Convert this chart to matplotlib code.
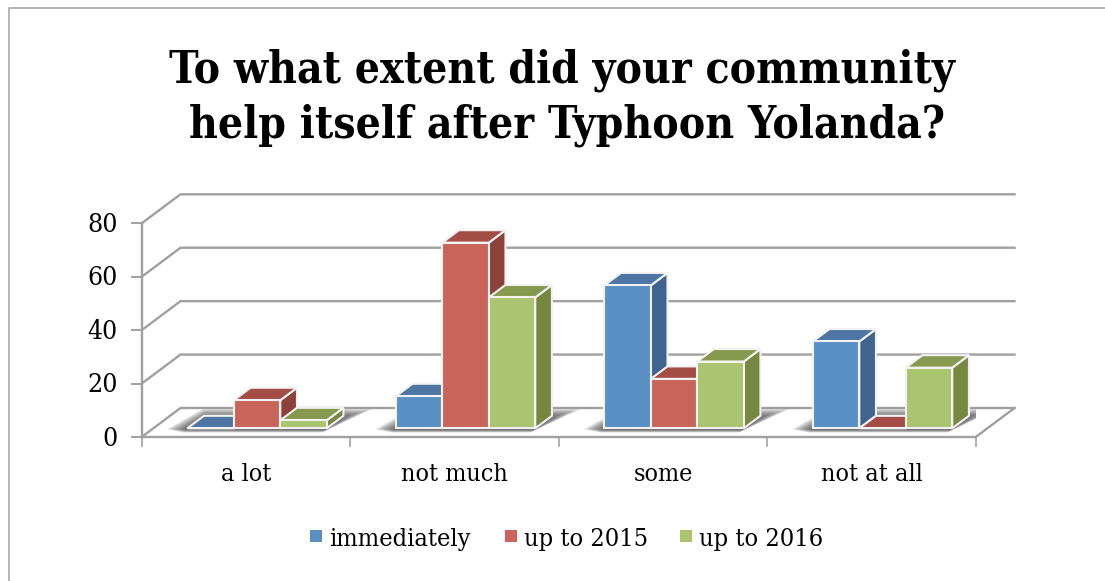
import matplotlib
matplotlib.use('Agg')
from matplotlib import pyplot as plt
from matplotlib.patches import Polygon, Rectangle

categories = ['a lot', 'not much', 'some', 'not at all']
series_names = ['immediately', 'up to 2015', 'up to 2016']
immediately = [0, 12, 53.5, 32.5]
up_to_2015 = [10.5, 69.5, 18.5, 0]
up_to_2016 = [3, 49, 25, 22.7]
y_ticks = [0, 20, 40, 60, 80]

colors = ['#5B90C4', '#C9645B', '#ABC46F']
top_colors = ['#4E75A3', '#A34D46', '#87994F']
side_colors = ['#41648E', '#8C423B', '#76873F']
grid_color = '#A0A0A0'
W, H = 1105, 581

plt.rcParams['font.family'] = ['DejaVu Serif']
plt.rcParams['font.stretch'] = 'condensed'

fig = plt.figure(figsize=(W / 100, H / 100), dpi=100)
# the front plane of the 3d box is the axes itself, depth is drawn by shearing
left, right, bottom, top = 141.7, 975.7, 437, 223.3
ax = fig.add_axes([left / W, 1 - bottom / H, (right - left) / W, (bottom - top) / H])
ax.set_xlim(0, 4)
ax.set_ylim(0, 80)
ax.axis('off')

x_px = 4 / (right - left)
y_px = 80 / (bottom - top)
depth_x, depth_y = 38.8 * x_px, 29 * y_px


def proj(x, y, d):
    return x + d * depth_x, y + d * depth_y


# walls
for t in y_ticks:
    ax.plot(*zip(proj(0, t, 0), proj(0, t, 1), proj(4, t, 1)), color=grid_color, lw=1.7,
            clip_on=False, zorder=1, solid_joinstyle='miter')
    ax.plot([-10 * x_px, 0], [t, t], color=grid_color, lw=1.4, clip_on=False, zorder=1)
    ax.text(-24 * x_px, t - 1 * y_px, str(t), ha='right', va='center', fontsize=19, clip_on=False)
ax.plot([0, 0], [0, 80], color=grid_color, lw=1.7, clip_on=False, zorder=1)
ax.plot(*zip(proj(0, 0, 0), proj(4, 0, 0), proj(4, 0, 1)), color=grid_color, lw=1.7,
        clip_on=False, zorder=1)
for i in range(5):
    ax.plot([i, i], [0, -9 * y_px], color=grid_color, lw=1.2, clip_on=False, zorder=1)
for i, c in enumerate(categories):
    ax.text(i + 0.5, -44 * y_px, c, ha='center', va='baseline', fontsize=18, clip_on=False)

bar_w = 0.2229
gap = 0.163
d0, d1 = 0.3, 0.73
all_series = [immediately, up_to_2015, up_to_2016]

for i in range(len(categories)):
    # floor shadow, faked with stacked see-through polygons
    x0 = i + gap
    x1 = x0 + 3 * bar_w
    for k in range(12):
        g = (12 - k) * 1.8
        pts = [proj(x0 + (g * 0.8 - 20) * x_px, (1 - g * 0.16) * y_px, d0 - 0.06),
               proj(x1 - (g * 0.3 - 4) * x_px, (1 - g * 0.16) * y_px, d0 - 0.06),
               proj(x1 + (22 - g) * x_px, 0, 1.0 - g * 0.015),
               proj(x0 + (g * 0.8 - 12) * x_px, 0, 1.0 - g * 0.015)]
        ax.add_patch(Polygon(pts, closed=True, fc='#404040', ec='none', alpha=0.115, zorder=2))
    for j, values in enumerate(all_series):
        v = values[i]
        x = i + gap + j * bar_w
        fx, fy = proj(x, 0, d0)
        z = 3 + j
        ax.bar(fx, v, bar_w, bottom=fy, align='edge', color=colors[j], edgecolor='#F2F2F2',
               linewidth=1.5, clip_on=False, zorder=z + 0.2)
        top_face = [proj(x, v, d0), proj(x + bar_w, v, d0), proj(x + bar_w, v, d1), proj(x, v, d1)]
        side_face = [proj(x + bar_w, 0, d0), proj(x + bar_w, v, d0), proj(x + bar_w, v, d1),
                     proj(x + bar_w, 0, d1)]
        ax.add_patch(Polygon(side_face, closed=True, fc=side_colors[j], ec='#F2F2F2', lw=1.5,
                             clip_on=False, zorder=z))
        ax.add_patch(Polygon(top_face, closed=True, fc=top_colors[j], ec='#F2F2F2', lw=1.5,
                             clip_on=False, zorder=z + 0.1))

# figure level things in pixel positions
fig.text(561.5 / W, 1 - 83 / H, 'To what extent did your community', ha='center', va='baseline',
         fontsize=31.8, fontweight='bold', color='black')
fig.text(567 / W, 1 - 138 / H, 'help itself after Typhoon Yolanda?', ha='center', va='baseline',
         fontsize=31.8, fontweight='bold', color='black')

legend_x = [310, 505, 680]
for j, name in enumerate(series_names):
    fig.add_artist(Rectangle((legend_x[j] / W, 1 - 542 / H), 12 / W, 12 / H, fc=colors[j], ec='none',
                             transform=fig.transFigure))
    fig.text((legend_x[j] + 19) / W, 1 - 546 / H, name, ha='left', va='baseline', fontsize=18.2)

# outer frame
fig.add_artist(plt.Line2D([8.5 / W, 8.5 / W, 1], [0, 1 - 7.5 / H, 1 - 7.5 / H], color='#A8A8A8', lw=1.2))

fig.savefig('out.png', dpi=100)
